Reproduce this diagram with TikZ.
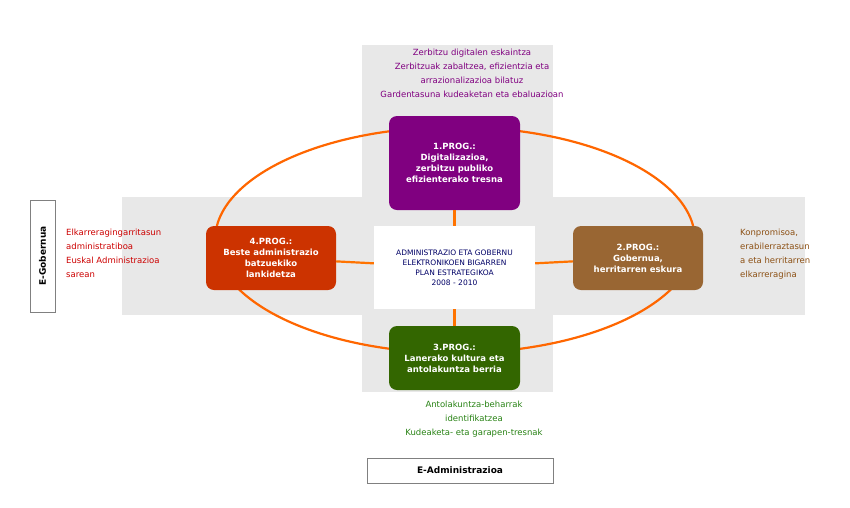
\documentclass[tikz,border=0pt]{standalone}
\usepackage{fontspec}
\setmainfont{DejaVu Sans}
\begin{document}
\begin{tikzpicture}[x=1pt,y=-1pt,
  prog/.style={rounded corners=8pt,text=white,font=\bfseries\fontsize{8.5}{11}\selectfont,align=center,inner sep=0pt},
  note/.style={font=\fontsize{8.5}{14}\selectfont,inner sep=0pt},
  conn/.style={draw=orange!90!red,line width=2.2pt},
  lab/.style={draw=gray,fill=white,font=\bfseries\fontsize{9}{11}\selectfont}]
\useasboundingbox (0,0) rectangle (850,507);
\definecolor{band}{RGB}{232,232,232}
\definecolor{cpur}{RGB}{128,0,128}
\definecolor{cred}{RGB}{204,51,0}
\definecolor{cbro}{RGB}{153,102,51}
\definecolor{cgre}{RGB}{51,102,0}
\definecolor{tred}{RGB}{204,0,0}
\definecolor{tbro}{RGB}{140,80,20}
\definecolor{tgre}{RGB}{40,130,20}
\fill[band] (362,45) rectangle (553,392);
\fill[band] (122,197) rectangle (805,315);
\draw[conn,draw=orange!80!red] (455,240) ellipse [x radius=240,y radius=113];
\node[prog,fill=cpur,minimum width=131,minimum height=94] (p1) at (454.5,163) {1.PROG.:\\Digitalizazioa,\\zerbitzu publiko\\efizienterako tresna};
\node[prog,fill=cred,minimum width=130,minimum height=64] (p4) at (271,258) {4.PROG.:\\Beste administrazio\\batzuekiko\\lankidetza};
\node[prog,fill=cbro,minimum width=130,minimum height=64] (p2) at (638,258) {2.PROG.:\\Gobernua,\\herritarren eskura};
\node[prog,fill=cgre,minimum width=131,minimum height=64] (p3) at (454.5,358) {3.PROG.:\\Lanerako kultura eta\\antolakuntza berria};
\node[fill=white,minimum width=161,minimum height=83,align=center,text=blue!40!black,font=\fontsize{7.5}{10}\selectfont,inner sep=0pt] (c) at (454.5,267.5) {ADMINISTRAZIO ETA GOBERNU\\ELEKTRONIKOEN BIGARREN\\PLAN ESTRATEGIKOA\\2008 - 2010};
\draw[conn] (p1) -- (c); \draw[conn] (c) -- (p3);
\draw[conn] (p4) -- (c); \draw[conn] (c) -- (p2);
\node[note,text=cpur,align=center] (t1) at (472,73) {Zerbitzu digitalen eskaintza\\Zerbitzuak zabaltzea, efizientzia eta\\arrazionalizazioa bilatuz\\Gardentasuna kudeaketan eta ebaluazioan};
\node[note,text=tred,align=left,anchor=north west] (t4) at (66,229) {Elkarreragingarritasun\\administratiboa\\Euskal Administrazioa\\sarean};
\node[note,text=tbro,align=left,anchor=north west] (t2) at (740,229) {Konpromisoa,\\erabilerraztasun\\a eta herritarren\\elkarreragina};
\node[note,text=tgre,align=center] (t3) at (474,419) {Antolakuntza-beharrak\\identifikatzea\\Kudeaketa- eta garapen-tresnak};
\node[lab,minimum width=25,minimum height=112,inner sep=0pt] (eg) at (42.5,256) {};
\node[rotate=90,font=\bfseries\fontsize{9}{11}\selectfont] (egt) at (eg) {E-Gobernua};
\node[lab,minimum width=186,minimum height=25,inner sep=0pt] (ea) at (460,470.5) {E-Administrazioa};
\end{tikzpicture}
\end{document}
